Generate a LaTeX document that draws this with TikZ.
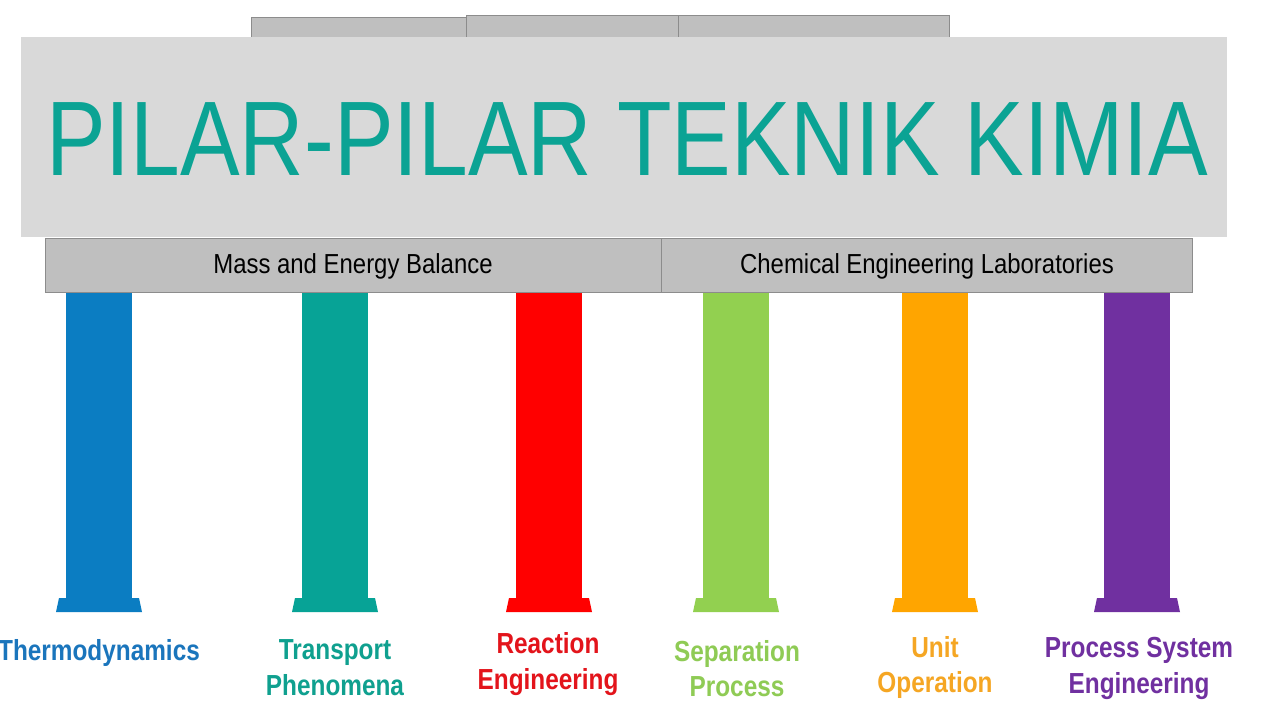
\documentclass[tikz,border=0pt]{standalone}
\usepackage{fontspec}
\setmainfont{Liberation Sans}
\newfontfamily\titlefont[FakeStretch=0.843]{Liberation Sans}
\newfontfamily\beamfont[FakeStretch=0.87]{Liberation Sans}
\newfontfamily\labelfont[FakeStretch=0.84]{Liberation Sans}
\definecolor{titlebg}{HTML}{D9D9D9}
\definecolor{beambg}{HTML}{BFBFBF}
\definecolor{beamline}{HTML}{8C8C8C}
\definecolor{titletxt}{HTML}{0BA394}
\definecolor{pblue}{HTML}{0B7DC2}
\definecolor{pteal}{HTML}{07A396}
\definecolor{pred}{HTML}{FF0000}
\definecolor{pgreen}{HTML}{92D050}
\definecolor{porange}{HTML}{FFA500}
\definecolor{ppurple}{HTML}{7030A0}
\definecolor{tblue}{HTML}{1A75BC}
\definecolor{tteal}{HTML}{0FA08F}
\definecolor{tred}{HTML}{E3141B}
\definecolor{tgreen}{HTML}{8FCB55}
\definecolor{torange}{HTML}{F5A623}
\definecolor{tpurple}{HTML}{7030A0}
\begin{document}
\begin{tikzpicture}[x=1pt,y=-1pt,
  beambox/.style={fill=beambg,draw=beamline,line width=1pt},
  beamtext/.style={anchor=base,inner sep=0pt,text=black,font=\beamfont\fontsize{27.5}{30}\selectfont},
  lab/.style={anchor=base,inner sep=0pt,font=\labelfont\bfseries\fontsize{29}{36}\selectfont}]
\useasboundingbox (0,0) rectangle (1280,720);
\fill[white] (0,0) rectangle (1280,720);
% hidden top boxes
\draw[beambox] (251,17) rectangle (466,70);
\draw[beambox] (466,15) rectangle (678,70);
\draw[beambox] (678,15) rectangle (949,70);
% pillars
\foreach \cx/\col in {99/pblue,335/pteal,549/pred,736/pgreen,935/porange,1137/ppurple}{
  \fill[\col] (\cx-33,290) rectangle (\cx+33,599);
  \fill[\col] (\cx-40,598) -- (\cx+40,598) -- (\cx+43,612) -- (\cx-43,612) -- cycle;
}
% beams
\draw[beambox] (45,238) rectangle (661,292);
\draw[beambox] (661,238) rectangle (1192,292);
\node[beamtext] (mass) at (353,273) {Mass and Energy Balance};
\node[beamtext] (lab) at (927,273) {Chemical Engineering Laboratories};
% title
\fill[titlebg] (21,37) rectangle (1227,237);
\node[anchor=base,inner sep=0pt,text=titletxt,font=\titlefont\fontsize{106}{120}\selectfont] (title) at (627,175) {PILAR-PILAR TEKNIK KIMIA};
% labels
\node[lab,text=tblue] (thermo) at (99,660) {Thermodynamics};
\node[lab,text=tteal] (trans1) at (335,659) {Transport};
\node[lab,text=tteal] (trans2) at (335,695) {Phenomena};
\node[lab,text=tred] (react1) at (548,653) {Reaction};
\node[lab,text=tred] (react2) at (548,689) {Engineering};
\node[lab,text=tgreen] (sep1) at (737,661) {Separation};
\node[lab,text=tgreen] (sep2) at (737,696) {Process};
\node[lab,text=torange] (unit1) at (935,657) {Unit};
\node[lab,text=torange] (unit2) at (935,692) {Operation};
\node[lab,text=tpurple] (pse1) at (1139,657) {Process System};
\node[lab,text=tpurple] (pse2) at (1139,693) {Engineering};
\end{tikzpicture}
\end{document}
